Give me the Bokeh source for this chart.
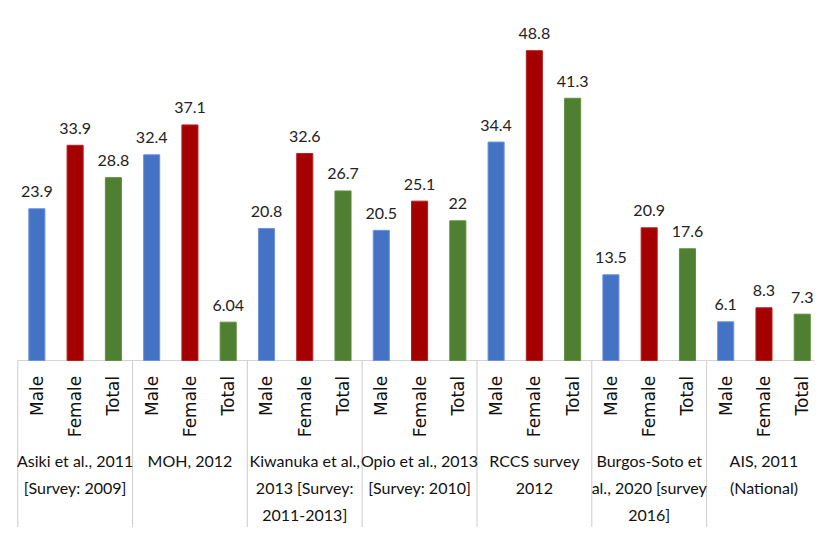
from bokeh.plotting import figure
from bokeh.models import ColumnDataSource, Range1d
from bokeh.core.properties import value
from bokeh.embed import file_html
from bokeh.resources import INLINE
import math

groups = [
    "Asiki et al., 2011\n[Survey: 2009]",
    "MOH, 2012",
    "Kiwanuka et al.,\n2013 [Survey:\n2011-2013]",
    "Opio et al., 2013\n[Survey: 2010]",
    "RCCS survey\n2012",
    "Burgos-Soto et\nal., 2020 [survey\n2016]",
    "AIS, 2011\n(National)",
]
subs = ["Male", "Female", "Total"]
male = [23.9, 32.4, 20.8, 20.5, 34.4, 13.5, 6.1]
female = [33.9, 37.1, 32.6, 25.1, 48.8, 20.9, 8.3]
total = [28.8, 6.04, 26.7, 22, 41.3, 17.6, 7.3]
colors = {"Male": "#4472c4", "Female": "#a50000", "Total": "#4f7f30"}
borders = {"Male": "#6a93dc", "Female": "#b82020", "Total": "#5f8f40"}

series = {"Male": male, "Female": female, "Total": total}
ns = len(subs)

xs, tops, fills, lines, labels, sublab = [], [], [], [], [], []
for gi in range(len(groups)):
    for si, s in enumerate(subs):
        v = series[s][gi]
        xs.append(gi * ns + si + 0.5)
        tops.append(v)
        fills.append(colors[s])
        lines.append(borders[s])
        labels.append(f"{v:g}")
        sublab.append(s)

src = ColumnDataSource(dict(x=xs, top=tops, fill=fills, line=lines, label=labels, sub=sublab))

p = figure(width=814, height=527, output_backend="svg", toolbar_location=None,
           x_range=Range1d(-0.45, len(groups) * ns - 0.18), y_range=Range1d(-26.3, 56.7),
           min_border=0, min_border_left=0, min_border_right=0, min_border_top=0, min_border_bottom=0)
p.axis.visible = False
p.grid.visible = False
p.outline_line_color = None
p.background_fill_color = "white"

gridc = "#d4d4d4"
sep_x = [k * ns for k in range(len(groups) + 1)]
p.segment(x0=sep_x, y0=[0] * len(sep_x), x1=sep_x, y1=[-30] * len(sep_x), line_color=gridc, line_width=1.2)
p.segment(x0=[0], y0=[0], x1=[len(groups) * ns], y1=[0], line_color=gridc, line_width=1.2)

p.vbar(x="x", top="top", bottom=0, width=0.42, source=src, fill_color="fill", line_color="line", line_width=1)

p.text(x="x", y="top", text="label", source=src, text_align="center", text_baseline="alphabetic",
       y_offset=-17, text_font=value("Lato"), text_font_size="16px", text_color="#222222")

p.text(x="x", y=-2.4, text="sub", source=src, angle=math.pi / 2, text_align="right", text_baseline="middle",
       text_font=value("DejaVu Sans"), text_font_size="17px", text_color="#111111")

gx = [gi * ns + ns / 2 for gi in range(len(groups))]
p.text(x=gx, y=[-14.3] * len(groups), text=groups, text_align="center", text_baseline="top",
       text_font=value("Lato"), text_font_size="16px", text_line_height=1.42, text_color="#111111")

open("out.html", "w").write(file_html(p, INLINE))
